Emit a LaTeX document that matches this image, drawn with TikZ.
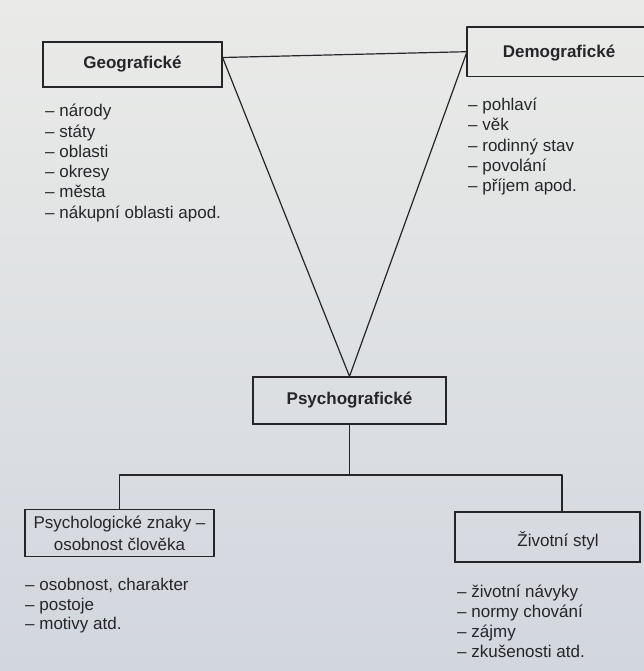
\documentclass[tikz,border=0pt]{standalone}
\usepackage{fontspec}
\setmainfont{Liberation Sans}
\usetikzlibrary{positioning}
\definecolor{ink}{RGB}{38,38,42}
\definecolor{pagetop}{RGB}{234,235,232}
\definecolor{pagebot}{RGB}{210,214,222}

\begin{document}
\begin{tikzpicture}[x=1pt, y=-1pt,
	every node/.style={text=ink, inner sep=0pt, font=\fontsize{17}{20}\selectfont},
	frame/.style={draw=ink, line width=1.2pt},
	head/.style={font=\bfseries\fontsize{17}{20}\selectfont, text height=12pt, text depth=4pt},
	item/.style={anchor=base west},
	link/.style={draw=ink, line width=1.2pt, line join=round}]
	\fill[top color=pagetop, bottom color=pagebot] (0,0) rectangle (644,671);
	\useasboundingbox (0,0) rectangle (644,671);
	\clip (0,0) rectangle (644,671);

	\node[frame, head, minimum width=179pt, minimum height=45pt] (geo) at (132.5,64.5) {Geografické};
	\node[minimum width=200pt, minimum height=49pt, anchor=north west] (demo) at (467,27) {};
	\node[head, anchor=base] (demotxt) at (559,57.7) {Demografické};
	\node[frame, head, minimum width=193pt, minimum height=47pt] (psy) at (349.5,400.5) {Psychografické};
	\node[frame, align=center, font=\fontsize{17}{22}\selectfont, minimum width=189pt, minimum height=47pt] (pers) at (119.5,533.3) {Psychologické znaky –\\osobnost člověka};
	\node[frame, minimum width=185pt, minimum height=50pt] (life) at (547.5,537) {};
	\node[anchor=base] (lifetxt) at (558,546.7) {Životní styl};

	\foreach \entry [count=\i from 0] in {národy, státy, oblasti, okresy, města, nákupní oblasti apod.}
		\node[item] (geo\i) at (45, 117+20.2*\i) {– \entry};
	\foreach \entry [count=\i from 0] in {pohlaví, věk, rodinný stav, povolání, příjem apod.}
		\node[item] (demo\i) at (468, 110.7+20.25*\i) {– \entry};
	\foreach \entry [count=\i from 0] in {{osobnost, charakter}, postoje, motivy atd.}
		\node[item] (pers\i) at (25, 590.7+19.3*\i) {– \entry};
	\foreach \entry [count=\i from 0] in {životní návyky, normy chování, zájmy, zkušenosti atd.}
		\node[item] (life\i) at (457, 597.7+20*\i) {– \entry};

	\draw[link] (demo.north east) -- (demo.north west) -- (demo.south west) -- (demo.south east);
	\coordinate (geoR) at ([yshift=7pt]geo.east);
	\coordinate (bar) at (0,475);
	\coordinate (lifetop) at (562,0);
	\draw[link] (geoR) -- (demo.west);
	\draw[link] (geoR) -- (psy.north) -- (demo.west);
	\draw[link] (psy.south) -- (psy.south |- bar);
	\draw[link] (pers.north) -- (pers.north |- bar) -- (lifetop |- bar) -- (lifetop |- life.north);
\end{tikzpicture}
\end{document}
